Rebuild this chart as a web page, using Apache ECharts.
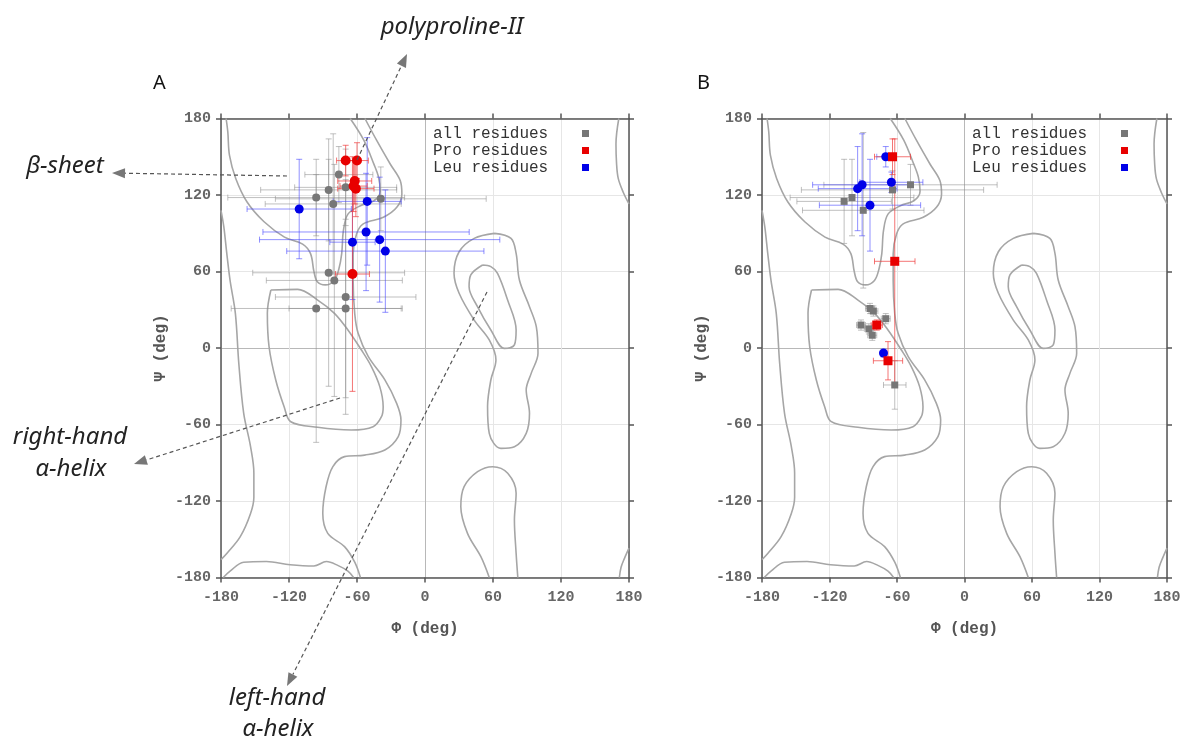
<!DOCTYPE html>
<html>
<head>
<meta charset="utf-8">
<script src="https://cdn.jsdelivr.net/npm/echarts@6/dist/echarts.min.js"></script>
<style>
html, body { margin: 0; padding: 0; background: #fff; }
#chart { width: 1189px; height: 740px; }
</style>
</head>
<body>
<div id="chart"></div>
<script>
var ticks = [-180, -120, -60, 0, 60, 120, 180];
var legendNames = ['all residues', 'Pro residues', 'Leu residues'];

// points: [phi, psi, phi error, psi error]
var allA = [[-76, 136, 30, 22], [-85, 124, 60, 40], [-96, 118, 78, 30], [-81, 113, 60, 55],
  [-70, 126, 45, 30], [-39, 117, 93, 25], [-85, 59, 67, 89], [-80, 53, 60, 91],
  [-70, 40, 62, 92], [-96, 31, 75, 105], [-70, 31, 50, 70]];
var proA = [[-70, 147, 8, 12], [-60, 147, 10, 14], [-62, 131, 15, 18], [-63, 127, 12, 20],
  [-61, 125, 16, 22], [-64, 58, 15, 92]];
var leuA = [[-111, 109, 46, 39], [-51, 115, 30, 50], [-52, 91, 91, 46], [-64, 83, 20, 45],
  [-40, 85, 106, 49], [-35, 76, 87, 48]];

var allB = [[-48, 128, 77, 16], [-64, 124, 81, 15], [-100, 118, 55, 30], [-107, 115, 42, 33],
  [-90, 108, 54, 61], [-84, 31, 4, 4], [-81, 29, 4, 4], [-70, 23, 4, 4], [-92, 18, 4, 4],
  [-85, 15, 4, 4], [-82, 10, 4, 4], [-62, -29, 10, 19]];
var proB = [[-64, 150, 16, 14], [-62, 68, 18, 96], [-78, 18, 5, 4], [-68, -10, 13, 15]];
var leuB = [[-70, 150, 8, 8], [-65, 130, 28, 8], [-91, 128, 44, 40], [-95, 125, 35, 33],
  [-84, 112, 45, 36], [-72, -4, 3, 3]];

// contour lines of the allowed regions: [phi, psi]
var betaTop = [[-66, 180], [-54, 163], [-45, 144], [-41, 134], [-39.5, 123], [-45, 115.5], [-57, 111.6],
  [-68, 105], [-72, 92], [-73.5, 74], [-76, 62], [-80, 53], [-88, 49.5], [-95, 52], [-98, 60],
  [-101, 74], [-108, 81.5], [-124, 87], [-142, 99], [-157, 114.5], [-167, 133], [-172.5, 151],
  [-174, 169.5], [-175.5, 180]];
var betaBottom = [[-178, -180], [-172, -175], [-160, -168], [-140, -167.5], [-119, -170], [-98, -171],
  [-87, -167.5], [-77, -170.5], [-68, -175], [-63, -180]];
var bridge = [[-53, 180], [-42.5, 162.6], [-30.7, 144.3], [-21.8, 131.2], [-20.4, 120.8], [-24.9, 110.3],
  [-36.7, 102.5], [-54.5, 97.3], [-60.4, 89.4], [-63.4, 73.7], [-63.4, 52.8], [-62, 27], [-59, 11.5],
  [-50, -6.8], [-35.4, -25], [-25, -43.4], [-21.2, -56.5], [-23.6, -69.5], [-35.4, -80], [-53.2, -84],
  [-71, -85.2], [-81.3, -93], [-87.3, -108.8], [-90.2, -129.7], [-85.8, -145.4], [-71, -155.8],
  [-62, -168], [-57, -180]];
var alphaR = [[-136, 45.5], [-112.4, 46], [-94.7, 37.6], [-79.9, 27.2], [-68, 14.1], [-56.1, -1.6],
  [-47.3, -14.6], [-39.9, -30.3], [-36.9, -46], [-38.4, -53.9], [-45.8, -61.7], [-65, -64.3],
  [-94.7, -62.2], [-118.4, -57.8], [-124.3, -46], [-131.7, -25.1], [-137.6, 1], [-139.1, 27.2],
  [-136, 45.5]];
var leftEdge = [[-180, 108], [-177.5, 95], [-175, 75], [-172, 53], [-167.3, 27], [-164.3, -12],
  [-160, -51], [-154, -77], [-151, -98], [-151, -117], [-154, -130], [-163, -148], [-174.7, -161],
  [-180, -166]];
var rightTop = [[171, 180], [168.5, 160], [169, 145], [170.5, 133], [175, 122], [180, 113]];
var rightBottom = [[180, -157], [176, -165], [173, -172], [171.5, -180]];
var alphaLOuter = [[61.2, 89.9], [43.4, 86], [30.1, 75.5], [25.6, 58.6], [30.1, 42.9], [43.4, 21.9],
  [56.7, 6.3], [62.6, -9.4], [58.1, -25.1], [55.2, -45.9], [56.7, -66.9], [67, -78.7], [78.9, -77.4],
  [89.3, -66.9], [92.2, -51.2], [89.3, -32.9], [93.7, -19.9], [99.7, -4.2], [98.2, 16.7], [92.2, 32.4],
  [83.3, 53.3], [80.4, 74.2], [75.9, 86], [61.2, 89.9]];
var alphaLInner = [[50.8, 65.1], [40.4, 57.3], [38.9, 48.1], [46.3, 32.4], [58.1, 14.1], [70, -0.3],
  [78.9, 2.4], [80.4, 14.1], [72.9, 37.6], [64, 58.6], [58.1, 63.8], [50.8, 65.1]];
var lowerL = [[56.7, -180], [49.3, -163.7], [37.5, -145.4], [31.6, -124.5], [34.5, -108.8], [46.4, -97],
  [59.7, -93.1], [73, -98.3], [80.4, -114], [78.9, -134.9], [80.4, -161], [81.9, -180]];

var contours = [betaTop, betaBottom, bridge, alphaR, leftEdge, rightTop, rightBottom,
  alphaLOuter, alphaLInner, lowerL];

var chartDom = document.getElementById('chart');
var myChart = echarts.init(chartDom);

var grey = '#777', red = '#e80000', blue = '#0000e8';
var mono = '"Liberation Mono", "DejaVu Sans Mono", monospace';

function xAxisFor(grid, pos, main) {
  return {
    type: 'value', gridIndex: grid, position: pos, min: -180, max: 180, interval: 60,
    name: main ? '\u03a6 (deg)' : '', nameLocation: 'middle', nameGap: 43,
    nameTextStyle: { fontFamily: mono, fontSize: 16, fontWeight: 'bold', color: '#555' },
    axisLine: { show: true, onZero: false, lineStyle: { color: '#555', width: 1.5 } },
    axisTick: { show: true, length: 5, lineStyle: { color: '#555', width: 1.5 } },
    axisLabel: { show: main, margin: 12, fontFamily: mono, fontSize: 15, fontWeight: 'bold', color: '#666' },
    splitLine: {
      show: main,
      lineStyle: { color: ticks.map(function (t) { return t === 0 ? '#b8b8b8' : '#e6e6e6'; }), width: 1 }
    }
  };
}

function yAxisFor(grid, pos, main) {
  return {
    type: 'value', gridIndex: grid, position: pos, min: -180, max: 180, interval: 60,
    name: main ? '\u03a8 (deg)' : '', nameLocation: 'middle', nameGap: 52, nameRotate: 90,
    nameTextStyle: { fontFamily: mono, fontSize: 16, fontWeight: 'bold', color: '#555' },
    axisLine: { show: true, onZero: false, lineStyle: { color: '#555', width: 1.5 } },
    axisTick: { show: true, length: 5, lineStyle: { color: '#555', width: 1.5 } },
    axisLabel: { show: main, margin: 10, fontFamily: mono, fontSize: 15, fontWeight: 'bold', color: '#666' },
    splitLine: {
      show: main,
      lineStyle: { color: ticks.map(function (t) { return t === 0 ? '#b8b8b8' : '#e6e6e6'; }), width: 1 }
    }
  };
}

function legendFor(right) {
  return {
    orient: 'vertical', right: right, top: 125, padding: 0, align: 'right',
    icon: 'rect', itemWidth: 7, itemHeight: 7, itemGap: 0, selectedMode: false,
    formatter: function (n) { return n + '   '; },
    textStyle: { fontFamily: mono, fontSize: 16, color: '#333', lineHeight: 17 },
    data: [
      { name: legendNames[0], itemStyle: { color: grey } },
      { name: legendNames[1], itemStyle: { color: red } },
      { name: legendNames[2], itemStyle: { color: blue } }
    ]
  };
}

function errorBars(data, axis, color) {
  return {
    type: 'custom', xAxisIndex: axis, yAxisIndex: axis, data: data, silent: true, z: 3, clip: true,
    encode: { x: 0, y: 1 },
    renderItem: function (params, api) {
      var x = api.value(0), y = api.value(1), dx = api.value(2), dy = api.value(3);
      var l = api.coord([x - dx, y]), r = api.coord([x + dx, y]);
      var t = api.coord([x, y + dy]), b = api.coord([x, y - dy]);
      var c = 3;
      var segs = [
        [l[0], l[1], r[0], r[1]], [t[0], t[1], b[0], b[1]],
        [l[0], l[1] - c, l[0], l[1] + c], [r[0], r[1] - c, r[0], r[1] + c],
        [t[0] - c, t[1], t[0] + c, t[1]], [b[0] - c, b[1], b[0] + c, b[1]]
      ];
      return {
        type: 'group',
        children: segs.map(function (s) {
          return { type: 'line', shape: { x1: s[0], y1: s[1], x2: s[2], y2: s[3] },
            style: { stroke: color, lineWidth: 1 } };
        })
      };
    }
  };
}

function points(name, data, axis, color, symbol, size) {
  return {
    name: name, type: 'scatter', xAxisIndex: axis, yAxisIndex: axis, z: 5,
    symbol: symbol, symbolSize: size,
    data: data.map(function (d) { return [d[0], d[1]]; }),
    itemStyle: { color: color, opacity: 1 }
  };
}

var series = [];
[0, 2].forEach(function (axis) {
  contours.forEach(function (c) {
    series.push({
      type: 'line', xAxisIndex: axis, yAxisIndex: axis, data: c, showSymbol: false, silent: true,
      smooth: 0.35, z: 1, lineStyle: { color: '#a6a6a6', width: 1.6 }
    });
  });
});

series.push(errorBars(allA, 0, 'rgba(140,140,140,0.55)'));
series.push(errorBars(leuA, 0, 'rgba(70,70,255,0.6)'));
series.push(errorBars(proA, 0, 'rgba(240,60,60,0.7)'));
series.push(points(legendNames[0], allA, 0, grey, 'circle', 8));
series.push(points(legendNames[2], leuA, 0, blue, 'circle', 9));
series.push(points(legendNames[1], proA, 0, red, 'circle', 10));

series.push(errorBars(allB, 2, 'rgba(140,140,140,0.55)'));
series.push(errorBars(leuB, 2, 'rgba(70,70,255,0.6)'));
series.push(errorBars(proB, 2, 'rgba(240,60,60,0.7)'));
series.push(points(legendNames[0], allB, 2, grey, 'rect', 7));
series.push(points(legendNames[2], leuB, 2, blue, 'circle', 9));
series.push(points(legendNames[1], proB, 2, red, 'rect', 9));

// dashed annotation arrows
function arrow(x1, y1, x2, y2) {
  var a = Math.atan2(y2 - y1, x2 - x1);
  var len = 13, half = 5;
  var bx = x2 - len * Math.cos(a), by = y2 - len * Math.sin(a);
  return [
    { type: 'line', z: 10, shape: { x1: x1, y1: y1, x2: bx, y2: by },
      style: { stroke: '#555', lineWidth: 1.2, lineDash: [4, 3] } },
    { type: 'polygon', z: 10, shape: { points: [[x2, y2],
      [bx + half * Math.sin(a), by - half * Math.cos(a)],
      [bx - half * Math.sin(a), by + half * Math.cos(a)]] },
      style: { fill: '#777' } }
  ];
}

function label(text, x, y) {
  return { type: 'text', z: 10, style: { text: text, x: x, y: y, textAlign: 'center', textVerticalAlign: 'middle',
    font: 'italic 24px "Noto Sans", "Open Sans", sans-serif', fill: '#222' } };
}

var graphics = [].concat(
  arrow(357, 160, 407, 54),
  arrow(287, 176, 112, 173),
  arrow(340, 398, 134, 464),
  arrow(487, 292, 287, 686),
  [
    label('polyproline-II', 452, 27),
    label('\u03b2-sheet', 65, 166),
    label('right-hand', 70, 437),
    label('\u03b1-helix', 71, 469),
    label('left-hand', 277, 698),
    label('\u03b1-helix', 278, 729)
  ]
);

var option = {
  animation: false,
  title: [
    { text: 'A', left: 148, top: 68, textStyle: { fontFamily: '"Noto Sans", sans-serif', fontSize: 20, fontWeight: 'normal', color: '#111' } },
    { text: 'B', left: 692, top: 68, textStyle: { fontFamily: '"Noto Sans", sans-serif', fontSize: 20, fontWeight: 'normal', color: '#111' } }
  ],
  grid: [
    { left: 221, top: 118.5, width: 408, height: 459 },
    { left: 762, top: 118.5, width: 405, height: 459 }
  ],
  legend: [legendFor(600), legendFor(61)],
  xAxis: [xAxisFor(0, 'bottom', true), xAxisFor(0, 'top', false), xAxisFor(1, 'bottom', true), xAxisFor(1, 'top', false)],
  yAxis: [yAxisFor(0, 'left', true), yAxisFor(0, 'right', false), yAxisFor(1, 'left', true), yAxisFor(1, 'right', false)],
  series: series,
  graphic: graphics
};

option && myChart.setOption(option);
</script>
</body>
</html>
